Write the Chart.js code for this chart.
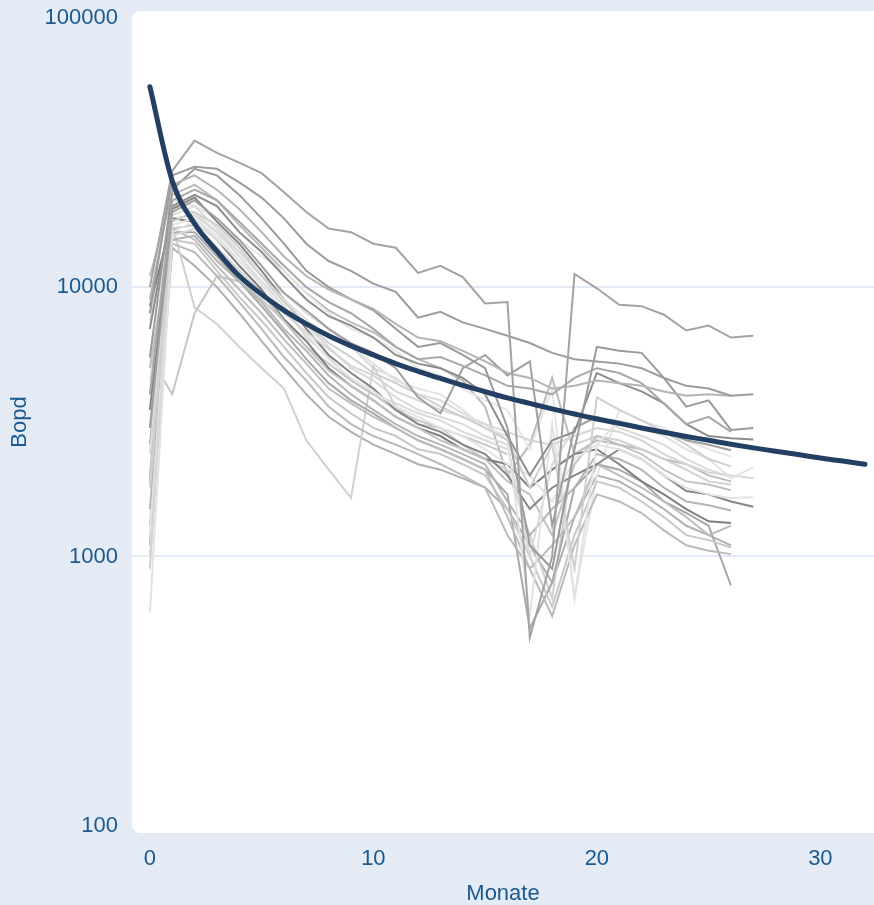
<!DOCTYPE html>
<html>
<head>
<meta charset="utf-8">
<script src="https://cdn.jsdelivr.net/npm/chart.js@4.4.1/dist/chart.umd.min.js"></script>
<style>
    html, body { margin: 0; padding: 0; background: #e4ebf5; }
    #wrap { width: 874px; height: 905px; }
</style>
</head>
<body>
<div id="wrap"><canvas id="declineChart" width="874" height="905"></canvas></div>
<script>
// ═══ Daten ═══
const months = [0, 1, 2, 3, 4, 5, 6, 7, 8, 9, 10, 11, 12, 13, 14, 15, 16,
                17, 18, 19, 20, 21, 22, 23, 24, 25, 26, 27, 28, 29, 30, 31, 32];
const xTicks = [0, 10, 20, 30];
const yTicks = [100, 1000, 10000, 100000];

// Typkurve
const typeCurve = [55500, 24800, 17200, 13600, 11000, 9400, 8200, 7300, 6600, 6050, 5600,
                   5200, 4870, 4580, 4320, 4090, 3880, 3700, 3530, 3380, 3240, 3120, 3000,
                   2890, 2790, 2700, 2610, 2530, 2460, 2390, 2320, 2260, 2200];

// Einzelbohrungen (Bopd je Monat)
const well01 = [10000, 27000, 35000, 31500, 29000, 26500, 22500, 19000, 16500, 16000, 14500, 14000, 11300, 12000, 10900, 8700, 8800, 500, 1000, 11200, 9900, 8600, 8500, 7900, 6900, 7200, 6500, 6600];
const well02 = [8000, 26000, 28000, 27500, 24500, 21500, 18000, 14500, 12500, 11500, 10300, 9600, 7700, 8100, 7400, 7000, 6600, 6200, 5700, 5400, 5300, 5200, 5000, 4600, 4300, 4200, 3950, 4000];
const well03 = [9000, 24000, 26000, 23000, 19500, 16000, 13000, 11000, 9800, 9000, 8300, 7300, 6500, 6300, 5800, 5300, 4800, 4600, 4200, 4300, 4500, 4400, 4300, 4100, 3950, 4000, 3950];
const well04 = [5500, 23000, 27500, 26000, 22000, 18000, 14500, 11500, 10000, 9000, 8200, 7000, 6000, 6200, 5600, 5000, 3000, 1100, 900, 2500, 6000, 5800, 5700, 4600, 3600, 3800, 2950, 3000];
const well05 = [4000, 21000, 23000, 21000, 17500, 14500, 12000, 10000, 8800, 8000, 7000, 6000, 5400, 5500, 5100, 4700, 4300, 4200, 4000, 4600, 5000, 4800, 4400, 3700, 3100, 3300, 2900];
const well06 = [7000, 20000, 22000, 20000, 16000, 13500, 11000, 9000, 7800, 7200, 6500, 5600, 5200, 5000, 4600, 4000, 2800, 2000, 2700, 2900, 4800, 4400, 4100, 3700, 3100, 2800, 2750, 2720];
const well07 = [3000, 19000, 21000, 18000, 15000, 12000, 9500, 8200, 7000, 6200, 5700, 5000, 3900, 3400, 5000, 5600, 4700, 5300, 1300, 3000, 3300, 3100, 3000, 2900, 2700, 2600, 2480];
const well08 = [1800, 17500, 19000, 17000, 14000, 11000, 8800, 7300, 6200, 5500, 4800, 4400, 4000, 3600, 3300, 3000, 2700, 1800, 2600, 900, 3900, 3500, 3200, 2900, 2600, 2300, 2160];
const well09 = [620, 16000, 17500, 15000, 12500, 10500, 9000, 7600, 6500, 6000, 5200, 4500, 4200, 4000, 3500, 3000, 2800, 600, 3100, 700, 2600, 3200, 3000, 2800, 2500, 2300, 1950, 2140];
const well10 = [1000, 15500, 16500, 14000, 11500, 9500, 8000, 6800, 5900, 5100, 4700, 4100, 3800, 3500, 3300, 3100, 2900, 2700, 2600, 2800, 3000, 2900, 2700, 2400, 2200, 2050, 2000, 1950];
const well11 = [2400, 18500, 20000, 16500, 13500, 11000, 9000, 7200, 6000, 5000, 4500, 3900, 3500, 3300, 3100, 2800, 2600, 1000, 2200, 3000, 3300, 3000, 2800, 2600, 2300, 2100, 1970];
const well12 = [1200, 17000, 18000, 15500, 12500, 10200, 8200, 6700, 5400, 4600, 4100, 3600, 3300, 3000, 2800, 2500, 2200, 2000, 1600, 2300, 2600, 2500, 2300, 2000, 1800, 1700, 1650, 1660];
const well13 = [3500, 19500, 21500, 17500, 14500, 11500, 9000, 7000, 5600, 4800, 4200, 3500, 3100, 2900, 2600, 2400, 2000, 1500, 1800, 2000, 2200, 2500, 2300, 2000, 1750, 1700, 1600, 1530];
const well14 = [2000, 16500, 17000, 14000, 11500, 9500, 7500, 6000, 4900, 4300, 3800, 3300, 3000, 2700, 2500, 2300, 1900, 1700, 1200, 2200, 2800, 2600, 2400, 2100, 1900, 1850, 1760];
const well15 = [1500, 15000, 15500, 12500, 10500, 8800, 7000, 5800, 4700, 4000, 3500, 3100, 2800, 2600, 2400, 2200, 1600, 1200, 1500, 1800, 2400, 2300, 2100, 1800, 1600, 1550, 1480];
const well16 = [8500, 18000, 17500, 15000, 12000, 9800, 7600, 6300, 5000, 4300, 3800, 3300, 3000, 2800, 2500, 2300, 2200, 1800, 2100, 2400, 2500, 2200, 1900, 1700, 1500, 1350, 1330];
const well17 = [5000, 16500, 15000, 12000, 9800, 8000, 6400, 5200, 4200, 3700, 3300, 3000, 2700, 2500, 2300, 2100, 1400, 900, 1100, 1400, 2200, 2000, 1800, 1600, 1400, 1200, 1300];
const well18 = [1300, 15000, 14500, 11500, 9200, 7500, 6000, 4800, 3900, 3400, 3000, 2800, 2500, 2400, 2200, 2000, 1500, 1000, 650, 1200, 1900, 1800, 1600, 1400, 1200, 1150, 1080];
const well19 = [1900, 14500, 13500, 11000, 8800, 7000, 5500, 4500, 3600, 3100, 2800, 2600, 2400, 2200, 2000, 1800, 1200, 900, 600, 1100, 1700, 1600, 1450, 1250, 1100, 1050, 1020];
const well20 = [2600, 16000, 16000, 13000, 10500, 8500, 6800, 5400, 4400, 3800, 3400, 3000, 2700, 2500, 2300, 2100, 1700, 540, 800, 1800, 2200, 2100, 1900, 1600, 1450, 1300, 780];
const well21 = [5500, 4000, 8000, 11000, 10500, 9000, 7500, 6000, 5200, 4500, 4000, 3500, 3200, 3000, 2800, 2600, 2400];
const well22 = [900, 17000, 8400, 7300, 6000, 5000, 4200, 2700, 2100, 1650, 5100, 3600, 3100, 3000, 2600, 2300, 2100, 1200, 700, 2600, 2800, 2700, 2500, 2300, 2100, 1900, 1850];
const well23 = [3000, 18000, 18500, 16000, 13000, 10500, 8500, 6500, 5500, 4500, 4000, 3700, 3400, 3200, 2900, 2700, 2500];
const well24 = [7500, 20000, 19000, 16000, 13500, 11000, 9500, 8000, 7000, 6000, 5000, 4600, 4000, 3800, 3400, 3100, 2700];
const well25 = [4500, 21000, 20000, 18000, 15000, 13000, 11500, 9500, 8000, 7000, 6500, 5800, 5000, 4700, 4200, 3800, 3500, 2500, 4200, 700, 2000, 3500, 3200, 3000, 2700, 2500, 2350];
const well26 = [1100, 14000, 12000, 10000, 8000, 6300, 5000, 4000, 3300, 2900, 2600, 2400, 2200, 2100, 1950, 1800, 1500, 1100, 800, 1400, 2000, 1900, 1700, 1500, 1300, 1200, 1100];
const well27 = [11000, 22000, 24000, 21000, 17000, 14000, 11500, 9500, 8200, 7400, 6800, 6000, 5400, 5000, 4500, 3600, 2000, 2600, 4600, 2400, 2700, 2600, 2500, 2300, 2200, 2000, 1900];

const wells = [well01, well02, well03, well04, well05, well06, well07, well08, well09,
               well10, well11, well12, well13, well14, well15, well16, well17, well18,
               well19, well20, well21, well22, well23, well24, well25, well26, well27];

// Grautöne je Bohrung
const wellColors = ['#a3a3a3', '#9c9c9c', '#b4b4b4', '#9a9a9a', '#a8a8a8', '#8c8c8c', '#a0a0a0',
                    '#cfcfcf', '#e2e2e2', '#d6d6d6', '#dadada', '#e3e3e3', '#858585', '#c2c2c2',
                    '#b5b5b5', '#7f7f7f', '#bdbdbd', '#c8c8c8', '#bababa', '#a8a8a8', '#c6c6c6',
                    '#d0d0d0', '#d9d9d9', '#dcdcdc', '#e6e6e6', '#b0b0b0', '#bcbcbc'];

const FONT = '"Liberation Sans", Arial, sans-serif';
const TEXT_BLUE = '#1b5a8f';

// Hintergrund + weiße Plotfläche
const plotBg = {
    id: 'plotBg',
    beforeDraw(chart) {
        const { ctx, chartArea: a } = chart;
        ctx.save();
        ctx.fillStyle = '#e4ebf5';
        ctx.fillRect(0, 0, chart.width, chart.height);
        ctx.fillStyle = '#ffffff';
        ctx.beginPath();
        ctx.roundRect(a.left, a.top, a.right - a.left + 10, a.bottom - a.top, 8);
        ctx.fill();
        ctx.restore();
    }
};

const datasets = [{
    label: 'Typkurve',
    data: typeCurve,
    borderColor: '#233f63',
    borderWidth: 5,
    borderCapStyle: 'round',
    pointRadius: 0,
    tension: 0.4,
    cubicInterpolationMode: 'monotone'
}];
wells.forEach((w, i) => {
    datasets.push({
        label: 'Bohrung ' + (i + 1),
        data: w,
        borderColor: wellColors[i],
        borderWidth: 2,
        pointRadius: 0,
        tension: 0
    });
});

new Chart(document.getElementById('declineChart').getContext('2d'), {
    type: 'line',
    data: { labels: months, datasets },
    options: {
        responsive: false,
        animation: false,
        layout: { padding: { top: 11, right: 0, bottom: 0, left: 0 } },
        plugins: { legend: { display: false }, tooltip: { enabled: false } },
        scales: {
            x: {
                type: 'linear',
                min: -0.8,
                max: 32.4,
                afterBuildTicks: s => { s.ticks = xTicks.map(v => ({ value: v })); },
                afterFit: s => { s.height = 72; s.paddingLeft = 0; s.paddingRight = 0; },
                grid: { display: false, drawTicks: false },
                border: { display: false },
                ticks: { color: TEXT_BLUE, font: { family: FONT, size: 22 }, padding: 13, maxRotation: 0 },
                title: { display: true, text: 'Monate', color: TEXT_BLUE, font: { family: FONT, size: 22, lineHeight: 1 }, padding: { top: 0, bottom: 0 } }
            },
            y: {
                type: 'logarithmic',
                min: 94,
                max: 106000,
                afterBuildTicks: s => { s.ticks = yTicks.map(v => ({ value: v })); },
                afterFit: s => { s.width = 132; s.paddingTop = 0; s.paddingBottom = 0; },
                grid: {
                    drawTicks: false,
                    lineWidth: 2,
                    color: c => (c.tick && (c.tick.value === 1000 || c.tick.value === 10000)) ? '#e4ebf5' : 'rgba(0,0,0,0)'
                },
                border: { display: false },
                ticks: { color: TEXT_BLUE, font: { family: FONT, size: 22 }, padding: 14, callback: v => String(v) },
                title: { display: true, text: 'Bopd', color: TEXT_BLUE, font: { family: FONT, size: 22, lineHeight: 1 }, padding: { top: 9, bottom: 0 } }
            }
        }
    },
    plugins: [plotBg]
});
</script>
</body>
</html>
